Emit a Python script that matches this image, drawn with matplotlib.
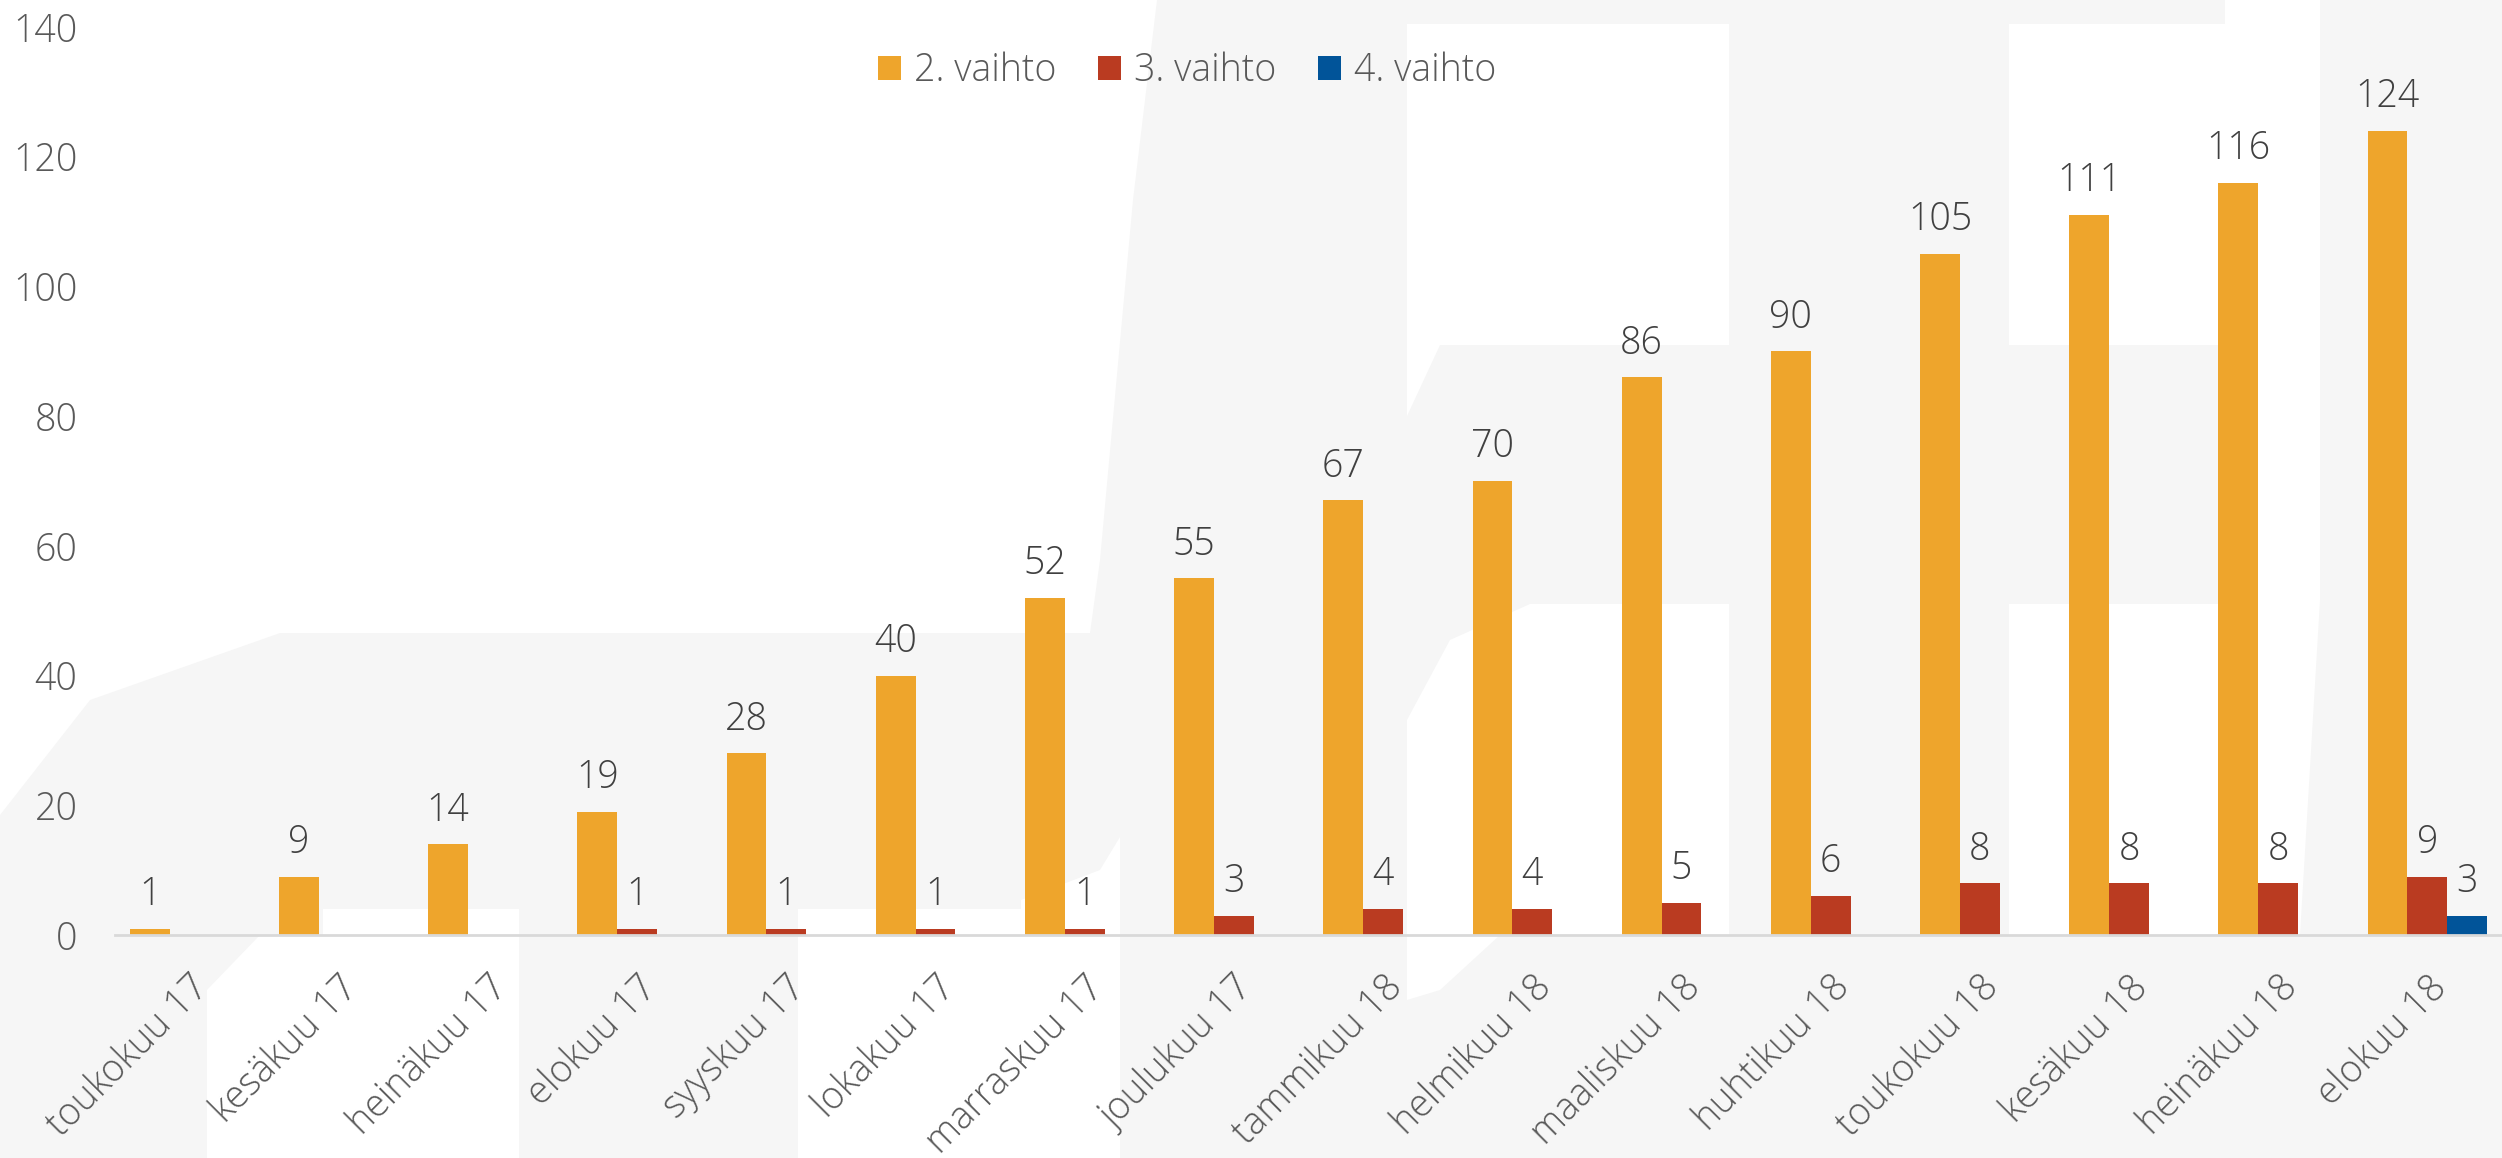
import numpy as np
import matplotlib
matplotlib.use("Agg")
import matplotlib.pyplot as plt
from matplotlib.patches import Polygon
from matplotlib.transforms import ScaledTranslation

# === data ===
months = ["toukokuu 17", "kesäkuu 17", "heinäkuu 17", "elokuu 17", "syyskuu 17",
          "lokakuu 17", "marraskuu 17", "joulukuu 17", "tammikuu 18", "helmikuu 18",
          "maaliskuu 18", "huhtikuu 18", "toukokuu 18", "kesäkuu 18", "heinäkuu 18",
          "elokuu 18"]
vaihto2 = [1, 9, 14, 19, 28, 40, 52, 55, 67, 70, 86, 90, 105, 111, 116, 124]
vaihto3 = [np.nan, np.nan, np.nan, 1, 1, 1, 1, 3, 4, 4, 5, 6, 8, 8, 8, 9]
vaihto4 = [np.nan] * 15 + [3]
series_names = ["2. vaihto", "3. vaihto", "4. vaihto"]
yticks = [0, 20, 40, 60, 80, 100, 120, 140]

colors = ["#EEA52C", "#BA3B21", "#015499"]
txt_grey = "#595959"
lbl_grey = "#404040"
font = "Open Sans"
fs = 27

W, H = 2502, 1158
fig = plt.figure(figsize=(W / 100, H / 100), dpi=100)
fig.patch.set_facecolor("white")

# faint background logo (decoration only), pixel coords from the top-left
def px_poly(pts, color):
    xy = [(x / W, 1 - y / H) for x, y in pts]
    fig.patches.append(Polygon(xy, closed=True, transform=fig.transFigure,
                               facecolor=color, edgecolor="none", zorder=-5))

bg = "#F6F6F6"
px_poly([(0, 1158), (0, 815), (90, 700), (280, 633), (1090, 633), (1100, 560),
         (1133, 200), (1157, 0), (2502, 0), (2502, 1158)], bg)
px_poly([(207, 1158), (207, 990), (260, 935), (323, 935), (323, 909), (519, 909),
         (519, 1158)], "white")
px_poly([(798, 1158), (798, 909), (1021, 909), (1021, 900), (1100, 870),
         (1120, 837), (1120, 1158)], "white")
px_poly([(1407, 24), (1729, 24), (1729, 345), (1440, 345), (1407, 416)], "white")
px_poly([(1407, 1000), (1407, 720), (1450, 640), (1530, 604), (1729, 604),
         (1729, 935), (1500, 935), (1440, 990)], "white")
px_poly([(2009, 24), (2225, 24), (2225, 0), (2320, 0), (2320, 600), (2300, 935),
         (2009, 935), (2009, 604), (2225, 604), (2225, 345), (2009, 345)], "white")

# === axes ===
ax = fig.add_axes([115 / W, 1 - 935 / H, 1 - 115 / W, (935 - 27) / H])
ax.set_facecolor("none")
ax.set_zorder(2)

x = np.arange(len(months))
bw = 0.267
all_vals = [vaihto2, vaihto3, vaihto4]
for i, (vals, name, c) in enumerate(zip(all_vals, series_names, colors)):
    xs = x + (i - 1) * bw
    ax.bar(xs, vals, width=bw, color=c, label=name, zorder=2)
    # value labels only where there is a value
    for xi, v in zip(xs, vals):
        if np.isnan(v):
            continue
        ax.annotate(f"{int(v)}", (xi, v), xytext=(0, 17), textcoords="offset points",
                    ha="center", va="baseline", fontsize=fs, color=lbl_grey,
                    family=font, fontweight="light")

ax.set_xlim(-0.5, len(months) - 0.5)
ax.set_ylim(0, 140)
ax.set_yticks(yticks)
ax.set_yticklabels([str(t) for t in yticks], fontsize=fs, color=txt_grey,
                   family=font, fontweight="light")
ax.set_xticks(x)
ax.set_xticklabels(months, rotation=45, ha="right", va="top", rotation_mode="anchor",
                   fontsize=fs, color=txt_grey, family=font, fontweight="light")
shift = ScaledTranslation(5 / 100, 0, fig.dpi_scale_trans)
for lab in ax.get_xticklabels():
    lab.set_transform(lab.get_transform() + shift)
ax.tick_params(axis="y", length=0, pad=27)
ax.tick_params(axis="x", length=0, pad=24)

for s in ["top", "right", "left"]:
    ax.spines[s].set_visible(False)
ax.spines["bottom"].set_color("#D9D9D9")
ax.spines["bottom"].set_linewidth(2)
ax.spines["bottom"].set_zorder(3)

leg = fig.legend(loc="center", bbox_to_anchor=(1187 / W, 1 - 71 / H), ncol=3,
                 frameon=False, handlelength=0.62, handleheight=0.64,
                 handletextpad=0.35, columnspacing=1.1,
                 prop={"family": font, "size": fs, "weight": "light"})
for t in leg.get_texts():
    t.set_color(txt_grey)

fig.savefig("out.png", dpi=100, facecolor=fig.get_facecolor())
